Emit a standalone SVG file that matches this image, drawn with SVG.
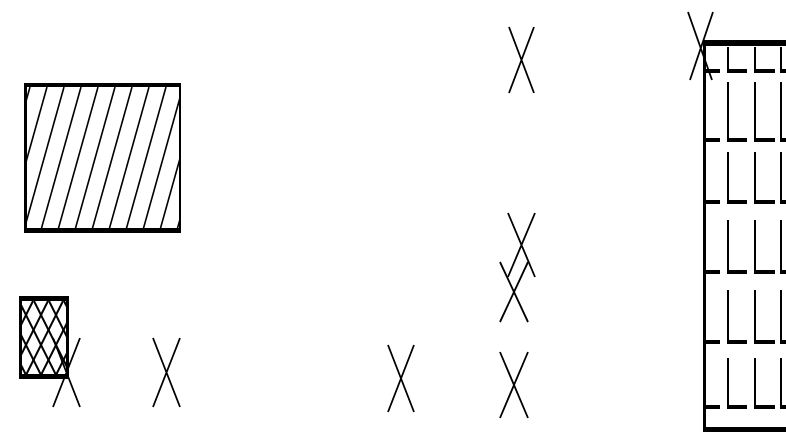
<svg xmlns="http://www.w3.org/2000/svg" width="786" height="448" viewBox="0 0 786 448">
<style>
.ln{stroke:#000;fill:none;stroke-linecap:butt}
.x{stroke:#000;stroke-width:1.8;fill:none}
.h{stroke:#000;stroke-width:1.6;fill:none}
.bar{fill:#000}
</style>
<defs>
<clipPath id="c1"><rect x="27" y="87" width="152" height="141"/></clipPath>
<clipPath id="c2"><rect x="22" y="301" width="45" height="73"/></clipPath>
</defs>
<rect width="786" height="448" fill="#fff"/>
<g id="bigBox">
<g clip-path="url(#c1)" class="h">
<line x1="-27" y1="230" x2="13" y2="87"/>
<line x1="-10" y1="230" x2="30" y2="87"/>
<line x1="7" y1="230" x2="47" y2="87"/>
<line x1="24" y1="230" x2="64" y2="87"/>
<line x1="41" y1="230" x2="81" y2="87"/>
<line x1="58" y1="230" x2="98" y2="87"/>
<line x1="75" y1="230" x2="115" y2="87"/>
<line x1="92" y1="230" x2="132" y2="87"/>
<line x1="109" y1="230" x2="149" y2="87"/>
<line x1="126" y1="230" x2="166" y2="87"/>
<line x1="143" y1="230" x2="183" y2="87"/>
<line x1="160" y1="230" x2="200" y2="87"/>
<line x1="177" y1="230" x2="217" y2="87"/>
</g>
<rect class="bar" x="24" y="83" width="157" height="4"/>
<rect class="bar" x="24" y="228" width="157" height="5"/>
<rect class="bar" x="24" y="83" width="3" height="150"/>
<rect class="bar" x="179" y="83" width="2" height="150"/>
</g>
<g id="smallBox">
<g clip-path="url(#c2)" class="ln" stroke-width="2">
<line x1="4" y1="301" x2="44" y2="381"/>
<line x1="19" y1="301" x2="59" y2="381"/>
<line x1="34" y1="301" x2="74" y2="381"/>
<line x1="49" y1="301" x2="89" y2="381"/>
<line x1="64" y1="301" x2="104" y2="381"/>
<line x1="-11" y1="301" x2="29" y2="381"/>
<line x1="-26" y1="301" x2="14" y2="381"/>
<line x1="33" y1="301" x2="-7" y2="381"/>
<line x1="48" y1="301" x2="8" y2="381"/>
<line x1="63" y1="301" x2="23" y2="381"/>
<line x1="78" y1="301" x2="38" y2="381"/>
<line x1="93" y1="301" x2="53" y2="381"/>
<line x1="108" y1="301" x2="68" y2="381"/>
</g>
<rect class="bar" x="19" y="296" width="50" height="5"/>
<rect class="bar" x="19" y="374" width="50" height="5"/>
<rect class="bar" x="19" y="296" width="3" height="83"/>
<rect class="bar" x="66" y="296" width="3" height="83"/>
</g>
<g id="x1"><path class="x" d="M53,338 L80,407 M80,338 L53,407"/></g>
<g id="x2"><path class="x" d="M153,338 L180,407 M180,338 L153,407"/></g>
<g id="x3"><path class="x" d="M388,345 L414,412 M414,345 L388,412"/></g>
<g id="x4"><path class="x" d="M500,352 L528,418 M528,352 L500,418"/></g>
<g id="x5"><path class="x" d="M508,213 L535,277 M535,213 L508,277"/></g>
<g id="x6"><path class="x" d="M500,262 L528,322 M528,262 L500,322"/></g>
<g id="x7"><path class="x" d="M509,27 L534,93 M534,27 L509,93"/></g>
<g id="x8"><path class="x" d="M688,12 L712,80 M713,12 L690,80"/></g>
<g id="grid">
<rect class="bar" x="703" y="40" width="83" height="6"/>
<rect class="bar" x="703" y="40" width="3" height="392"/>
<rect class="bar" x="703" y="427" width="83" height="5"/>
<g id="rows" class="bar">
<g id="r1"><rect x="703" y="69" width="17" height="4"/><rect x="727" y="69" width="20" height="4"/><rect x="754" y="69" width="21" height="4"/><rect x="780" y="69" width="6" height="4"/>
<rect x="727" y="47" width="2" height="24"/><rect x="754" y="47" width="2" height="24"/><rect x="780" y="47" width="2" height="24"/></g>
<g id="r2"><rect x="703" y="138" width="17" height="4"/><rect x="727" y="138" width="20" height="4"/><rect x="754" y="138" width="21" height="4"/><rect x="780" y="138" width="6" height="4"/>
<rect x="727" y="82" width="2" height="58"/><rect x="754" y="82" width="2" height="58"/><rect x="780" y="82" width="2" height="58"/></g>
<g id="r3"><rect x="703" y="200" width="17" height="4"/><rect x="727" y="200" width="20" height="4"/><rect x="754" y="200" width="21" height="4"/><rect x="780" y="200" width="6" height="4"/>
<rect x="727" y="152" width="2" height="50"/><rect x="754" y="152" width="2" height="50"/><rect x="780" y="152" width="2" height="50"/></g>
<g id="r4"><rect x="703" y="270" width="17" height="4"/><rect x="727" y="270" width="20" height="4"/><rect x="754" y="270" width="21" height="4"/><rect x="780" y="270" width="6" height="4"/>
<rect x="727" y="220" width="2" height="52"/><rect x="754" y="220" width="2" height="52"/><rect x="780" y="220" width="2" height="52"/></g>
<g id="r5"><rect x="703" y="340" width="17" height="4"/><rect x="727" y="340" width="20" height="4"/><rect x="754" y="340" width="21" height="4"/><rect x="780" y="340" width="6" height="4"/>
<rect x="727" y="290" width="2" height="52"/><rect x="754" y="290" width="2" height="52"/><rect x="780" y="290" width="2" height="52"/></g>
<g id="r6"><rect x="703" y="405" width="17" height="4"/><rect x="727" y="405" width="20" height="4"/><rect x="754" y="405" width="21" height="4"/><rect x="780" y="405" width="6" height="4"/>
<rect x="727" y="358" width="2" height="49"/><rect x="754" y="358" width="2" height="49"/><rect x="780" y="358" width="2" height="49"/></g>
</g>
</g>
</svg>
